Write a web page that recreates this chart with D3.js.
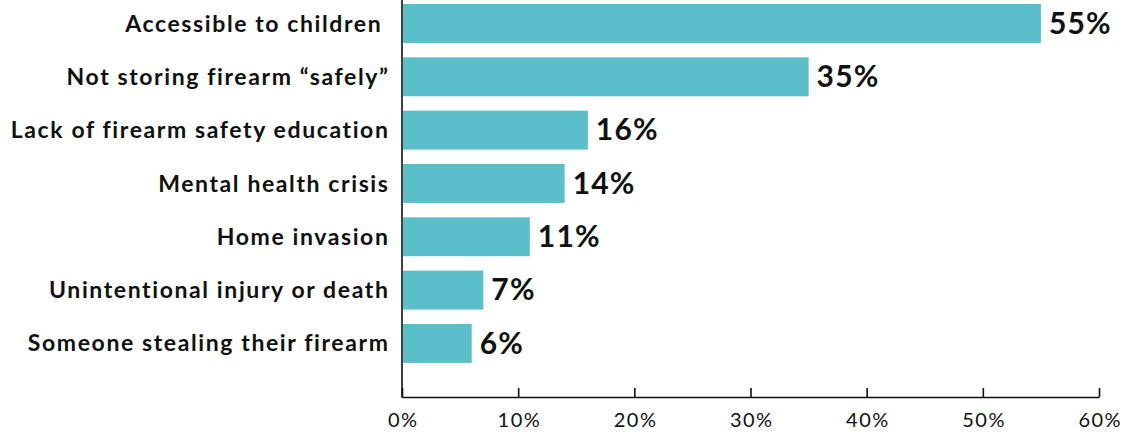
<!DOCTYPE html>
<html><head><meta charset="utf-8">
<script src="https://cdn.jsdelivr.net/npm/d3@7"></script>
<style>
body{margin:0;background:#fff;}
text{font-family:Lato,"Open Sans",sans-serif;}
</style></head>
<body><svg id="c" width="1127" height="434"></svg>
<script>
const categories = ["Accessible to children ", "Not storing firearm \u201csafely\u201d", "Lack of firearm safety education", "Mental health crisis", "Home invasion", "Unintentional injury or death", "Someone stealing their firearm"];
const values = [55, 35, 16, 14, 11, 7, 6];
const tickValues = [0, 10, 20, 30, 40, 50, 60];

const svg = d3.select("#c");
const x = d3.scaleLinear().domain([0, 60]).range([402, 1099]);
const y = d3.scaleBand().domain(categories).range([-3.2, 370.1]).paddingInner(0.27).paddingOuter(0.135);

svg.selectAll("rect.bar").data(values).join("rect")
  .attr("class","bar")
  .attr("x", x(0)+1)
  .attr("y", (d,i)=>y(categories[i]))
  .attr("width", d=>x(d)-x(0)-1)
  .attr("height", y.bandwidth())
  .attr("fill", "#5bbfca");

svg.selectAll("text.val").data(values).join("text")
  .attr("class","val")
  .attr("x", d=>x(d)+8)
  .attr("y", (d,i)=>y(categories[i])+y.bandwidth()/2)
  .attr("dy","0.34em")
  .attr("font-size", 30)
  .attr("font-weight", 700)
  .attr("letter-spacing", 1.2)
  .attr("fill", "#111")
  .text(d=>d+"%");

svg.selectAll("text.cat").data(categories).join("text")
  .attr("class","cat")
  .attr("x", 389.5)
  .attr("y", d=>y(d)+y.bandwidth()/2)
  .attr("dy","0.35em")
  .attr("text-anchor","end")
  .attr("font-size", 23)
  .attr("font-weight", 700)
  .attr("letter-spacing", 1.6)
  .attr("fill", "#111")
  .style("white-space","pre")
  .text(d=>d);

const axis = d3.axisBottom(x).tickValues(tickValues).tickFormat(d=>d+"%").tickSizeInner(-9).tickSizeOuter(0).tickPadding(0);
const g = svg.append("g").attr("transform","translate(0,397)").call(axis);
g.select(".domain").attr("stroke","#111").attr("stroke-width",1.6);
g.selectAll(".tick line").attr("stroke","#111").attr("stroke-width",1.6);
g.selectAll(".tick text").attr("font-size",20).attr("fill","#111").attr("font-family","Lato,sans-serif")
  .attr("y",30).attr("dy",0).attr("letter-spacing",1.5).attr("dx",0.75);

svg.append("line").attr("x1",x(0)).attr("x2",x(0)).attr("y1",0).attr("y2",397.8)
  .attr("stroke","#111").attr("stroke-width",1.6);
</script></body></html>
